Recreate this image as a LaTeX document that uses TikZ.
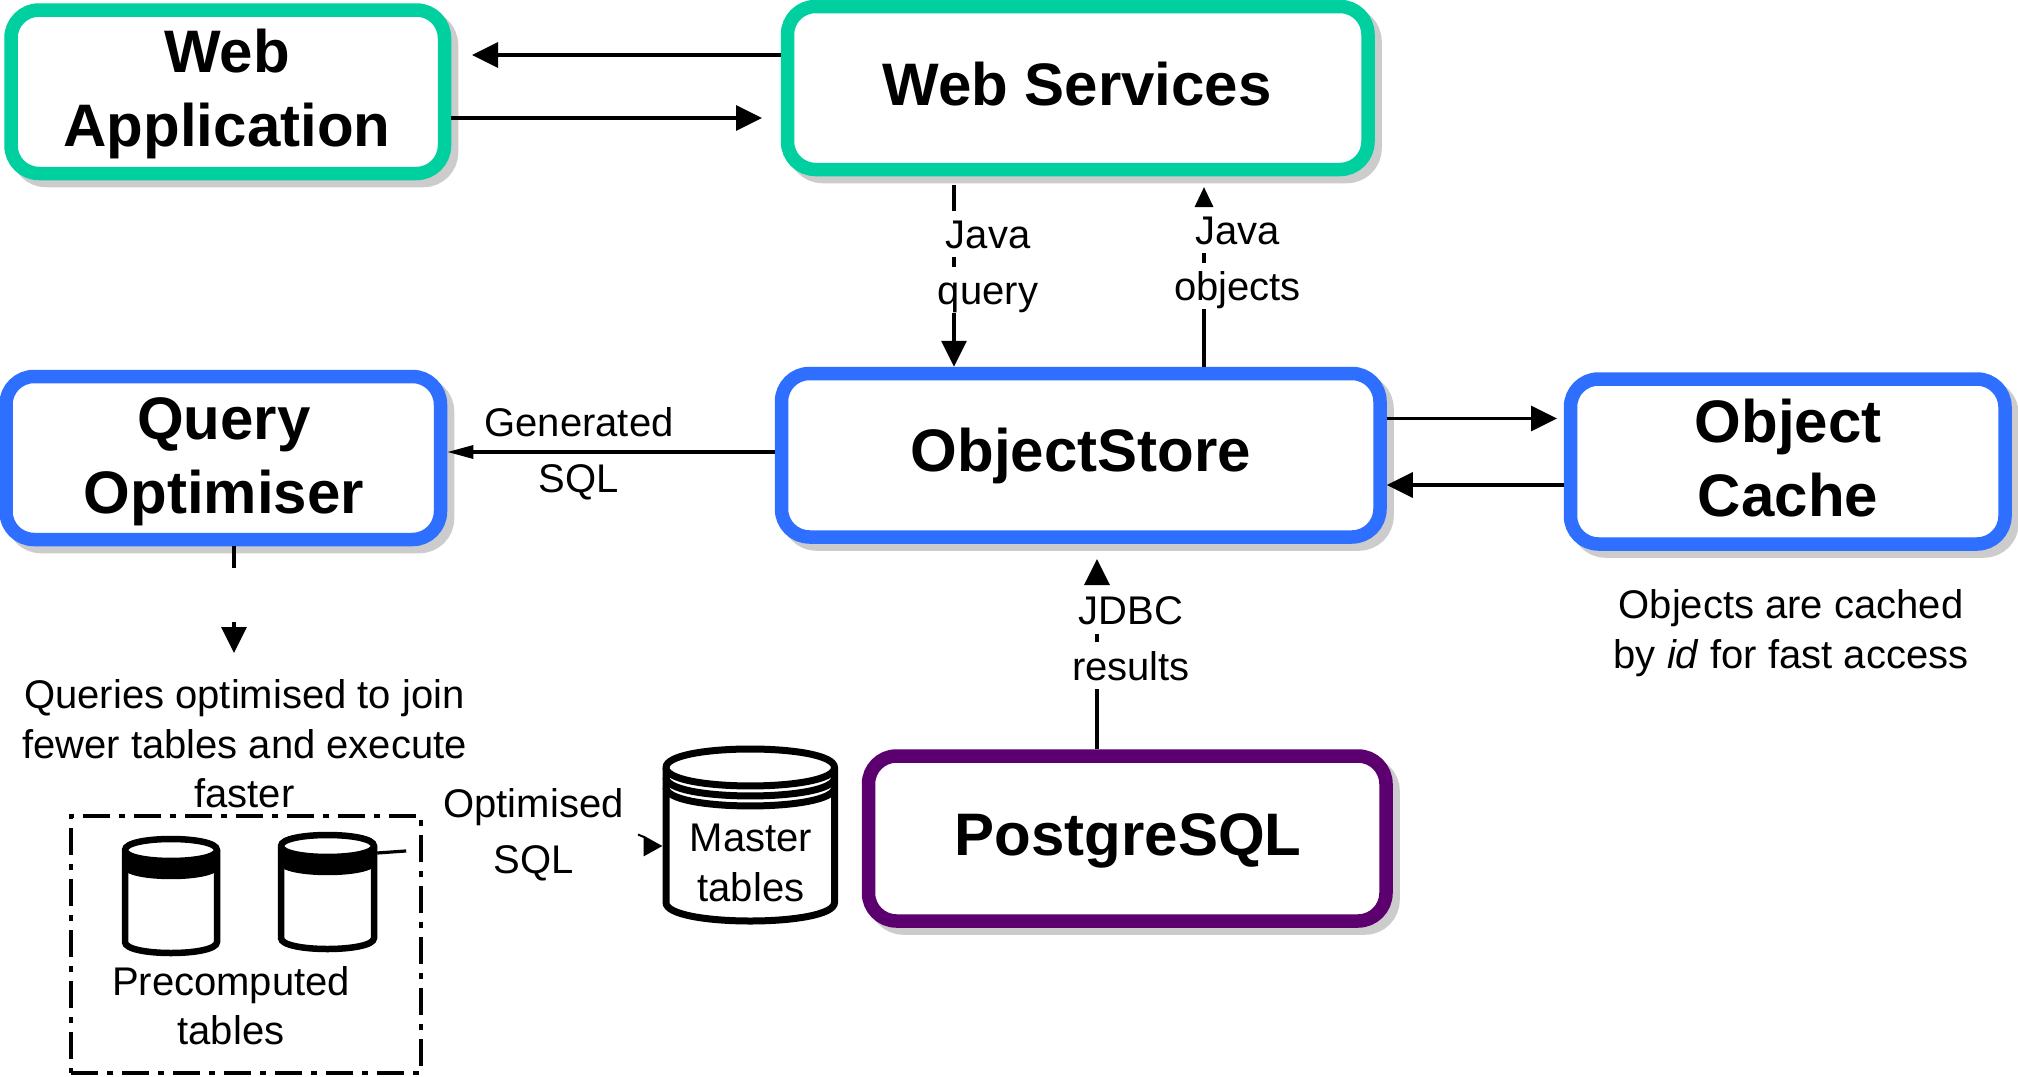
\documentclass[tikz,border=0pt]{standalone}
\usepackage{fontspec}
\setmainfont{Liberation Sans}
\usetikzlibrary{arrows.meta}
\definecolor{cgreen}{HTML}{00CF9F}
\definecolor{cblue}{HTML}{2E6FFF}
\definecolor{cpurple}{HTML}{5C0070}
\definecolor{cshadow}{HTML}{CCCCCC}
\tikzset{
  tbox/.style={draw=#1, fill=white, line width=13.5pt, rounded corners=28pt, inner sep=0pt,
    align=center, font=\fontsize{60}{74}\selectfont\bfseries,
    preaction={draw=cshadow, fill=cshadow, transform canvas={xshift=7pt,yshift=-7pt}}},
  ttl/.style={anchor=base, align=center, inner sep=0pt, font=\fontsize{60}{74}\selectfont\bfseries},
  lblwide/.style={inner sep=0pt, anchor=base, align=center, font=\fontsize{40}{56}\selectfont},
  lblnarrow/.style={inner sep=0pt, anchor=base, align=center, font=\fontsize{40}{49.5}\selectfont},
  conn/.style={line width=3.2pt, black},
  bighead/.style={-{Triangle[length=26pt,width=25pt]}},
  dbline/.style={line width=#1, black, fill=white},
  groupbox/.style={draw=black, line width=3.4pt, inner sep=0pt, dash pattern=on 27pt off 9pt on 6pt off 9pt}
}
% x1 x2 ytop ybot ry band-offset band-count name linewidth
\newcommand{\dbcyl}[9]{%
  \draw[dbline=#9pt] (#1,#3+#5) -- (#1,#4-#5) .. controls (#1,#4+#5/3) and (#2,#4+#5/3) .. (#2,#4-#5) -- (#2,#3+#5)
     .. controls (#2,#3-#5/3) and (#1,#3-#5/3) .. (#1,#3+#5) -- cycle;
  \draw[dbline=#9pt] (#1,#3+#5) .. controls (#1,#3+2.33*#5) and (#2,#3+2.33*#5) .. (#2,#3+#5);
  \foreach \k in {1,...,#7}{
    \draw[dbline=#9pt, fill=none] (#1,#3+#5+\k*#6) .. controls (#1,#3+2.33*#5+\k*#6) and (#2,#3+2.33*#5+\k*#6) .. (#2,#3+#5+\k*#6);
  }
  \node[inner sep=0pt, outer sep=0pt, minimum width=#2pt-#1pt+#9pt, minimum height=#4pt-#3pt+#9pt] (#8) at ({(#1+#2)/2},{(#3+#4)/2}) {};
}
\begin{document}
\begin{tikzpicture}[x=1pt,y=-1pt]
\useasboundingbox (0,0) rectangle (2018,1076);
\fill[white] (0,0) rectangle (2018,1076);

% boxes
\node[tbox=cgreen, minimum width=433.5pt, minimum height=163.5pt] (webapp) at (227.75,91.75) {};
\node[tbox=cgreen, minimum width=580.5pt, minimum height=163pt] (websvc) at (1077.75,88) {};
\node[tbox=cblue, minimum width=434.5pt, minimum height=163pt] (qopt) at (223.25,458) {};
\node[tbox=cblue, minimum width=598.5pt, minimum height=163.5pt] (ostore) at (1080.75,455.25) {};
\node[tbox=cblue, minimum width=434.5pt, minimum height=165pt] (ocache) at (1787.75,461.5) {};
\node[tbox=cpurple, minimum width=517.5pt, minimum height=165pt] (pg) at (1127.25,838.5) {};

% box titles
\node[ttl] (webappt) at (227,146) {Web\\Application};
\node[ttl] (websvct) at (1077,105) {Web Services};
\node[ttl] (qoptt) at (224,513) {Query\\Optimiser};
\node[ttl] (ostoret) at (1081,471) {ObjectStore};
\node[ttl] (ocachet) at (1788,516) {Object\\Cache};
\node[ttl] (pgt) at (1128,855) {PostgreSQL};

% free ends
\coordinate (c1) at (472,55);
\coordinate (c2) at (762,118);
\coordinate (c3) at (954,185);
\coordinate (c4) at (1204,187);
\coordinate (c5) at (1557,418.5);
\coordinate (c6) at (1097,559);
\coordinate (c7) at (234,653);
\coordinate (c8) at (638,834.5);
\coordinate (c9) at (645,837.5);
\coordinate (c10) at (644,846);

% connectors between the top boxes
\draw[conn, bighead] (websvc.west |- c1) -- (c1);
\draw[conn, bighead] (webapp.east |- c2) -- (c2);
% Java query
\draw[conn, bighead, dash pattern=on 26pt off 46pt on 10pt off 46pt on 60pt] (c3) -- (ostore.north -| c3);
% Java objects
\draw[conn, -{Triangle[length=20pt,width=18pt]}, dash pattern=on 58pt off 46pt on 10pt off 46pt on 30pt] (ostore.north -| c4) -- (c4);
% Generated SQL
\draw[conn, -{Triangle[length=26pt,width=13pt]}] (ostore.west |- 0,452) -- (qopt.east |- 0,452);
% ObjectStore <-> cache
\draw[conn, bighead] (ostore.east |- c5) -- (c5);
\draw[conn, bighead] (ocache.west |- 0,485) -- (ostore.east |- 0,485);
% JDBC
\draw[conn, bighead, dash pattern=on 60pt off 47pt on 8pt off 50pt on 30pt] (pg.north -| c6) -- (c6);
% optimiser down
\draw[conn, bighead, dash pattern=on 22pt off 54pt on 40pt] (qopt.south -| c7) -- (c7);

% group and cylinders
\node[groupbox, minimum width=350pt, minimum height=257pt] (group) at (246,944.5) {};
\dbcyl{125}{217}{839}{953}{11}{5}{3}{cyla}{6.5}
\dbcyl{281}{374}{835}{949}{11}{5}{3}{cylb}{6.5}
\dbcyl{666}{834.5}{749}{921}{18.5}{10}{2}{master}{7}

% Optimised SQL connector
\draw[conn, dash pattern=on 29pt off 300pt] (cylb.east |- 0,853) -- (c8);
\draw[line width=2pt] (c8) -- (c9);
\draw[conn, -{Triangle[length=19pt,width=20pt]}] (c10) -- (master.west |- c10);

% labels
\node[lblwide] (l1) at (988,304) {Java\\query};
\node[lblwide] (l2) at (1237.5,300) {Java\\objects};
\node[lblwide] (l3) at (579,492) {Generated\\SQL};
\node[lblwide] (l4) at (1131,680.5) {JDBC\\results};
\node[lblwide] (l5) at (533.5,873) {Optimised\\SQL};
\node[lblnarrow] (l6) at (1791,668) {Objects are cached\\by \textit{id} for fast access};
\node[lblnarrow] (l7) at (244.5,807.5) {Queries optimised to join\\fewer tables and execute\\faster};
\node[lblnarrow] (l8) at (751,901) {Master\\tables};
\node[lblnarrow] (l9) at (231,1044.5) {Precomputed\\tables};
\end{tikzpicture}
\end{document}
